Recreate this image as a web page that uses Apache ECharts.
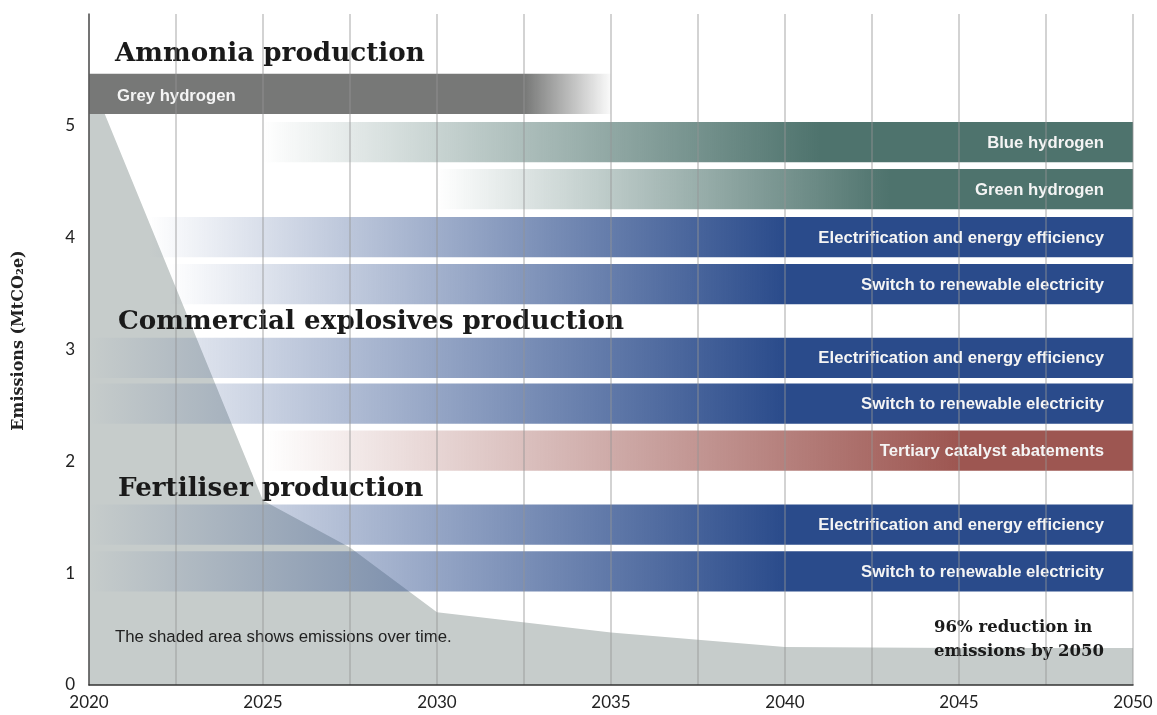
<!DOCTYPE html>
<html><head><meta charset="utf-8">
<script src="https://cdn.jsdelivr.net/npm/echarts@6/dist/echarts.min.js"></script>
<style>html,body{margin:0;padding:0;background:#fff}#c{width:1157px;height:715px}</style>
</head><body><div id="c"></div>
<script>
// ---- data ----
var emissionYears = [2020, 2025, 2027.5, 2030, 2035, 2040, 2045, 2050];
var emissionValues = [5.45, 1.65, 1.23, 0.65, 0.47, 0.34, 0.33, 0.33];

var barLabels = ['Grey hydrogen','Blue hydrogen','Green hydrogen',
  'Electrification and energy efficiency','Switch to renewable electricity',
  'Electrification and energy efficiency','Switch to renewable electricity','Tertiary catalyst abatements',
  'Electrification and energy efficiency','Switch to renewable electricity'];
var barLevels = [5.285, 4.855, 4.435, 4.005, 3.585, 2.925, 2.515, 2.095, 1.435, 1.015];
var barFrom =      [2020, 2025, 2030, 2021.7, 2022.3, 2020, 2020, 2025, 2020, 2020];
var barSolidFrom = [2020, 2041, 2043, 2040, 2040, 2040, 2040, 2045, 2040, 2040];
var barSolidTo =   [2032.5, 2050, 2050, 2050, 2050, 2050, 2050, 2050, 2050, 2050];
var barTo =        [2035, 2050, 2050, 2050, 2050, 2050, 2050, 2050, 2050, 2050];
var barColors = ['119,120,119','78,115,109','78,115,109','42,75,139','42,75,139',
  '42,75,139','42,75,139','157,86,81','42,75,139','42,75,139'];
var barLabelSide = ['left','right','right','right','right','right','right','right','right','right'];

var sectionTitles = ['Ammonia production','Commercial explosives production','Fertiliser production'];
var xTickLabels = ['2020','2025','2030','2035','2040','2045','2050'];
var yTickLabels = ['0','1','2','3','4','5'];

// ---- build ----
var areaData = emissionYears.map(function(y,i){return [y, emissionValues[i]];});
var barData = barLevels.map(function(v,i){return [barFrom[i], v, barTo[i], barSolidFrom[i], barSolidTo[i], i];});

var BAR_THICK = 0.36;
function renderBar(params, api){
  var i = api.value(5);
  var from = api.value(0), lvl = api.value(1), to = api.value(2), sf = api.value(3), st = api.value(4);
  var p0 = api.coord([from, lvl]);
  var p1 = api.coord([to, lvl]);
  var h = api.size([0, BAR_THICK])[1];
  var span = to - from;
  var c = barColors[i];
  var stops = [];
  var oSF = (sf - from)/span, oST = (st - from)/span;
  if (oSF > 0) stops.push({offset:0, color:'rgba('+c+',0)'});
  stops.push({offset:oSF, color:'rgba('+c+',1)'});
  stops.push({offset:oST, color:'rgba('+c+',1)'});
  if (oST < 1) stops.push({offset:1, color:'rgba('+c+',0.03)'});
  var grad = new echarts.graphic.LinearGradient(0,0,1,0,stops);
  var left = barLabelSide[i] === 'left';
  return {
    type:'group',
    children:[
      {type:'rect', shape:{x:p0[0], y:p0[1]-h/2, width:p1[0]-p0[0], height:h}, style:{fill:grad}},
      {type:'text', style:{
        text: barLabels[i],
        x: left ? p0[0]+28 : p1[0]-29,
        y: p0[1]+ (left ? 2 : 1),
        align: left ? 'left' : 'right',
        verticalAlign:'middle',
        fill:'#f4f4f4',
        font:'bold 16.7px "Liberation Sans", Arial, sans-serif'
      }}
    ]
  };
}

var chart = echarts.init(document.getElementById('c'), null, {renderer:'canvas'});
var titleFont = 'bold 26.2px "DejaVu Serif", serif';
chart.setOption({
  animation:false,
  grid:{left:89, right:24, top:14, bottom:30, containLabel:false},
  xAxis:{
    type:'value', min:2020, max:2050, interval:2.5, z:10,
    axisLine:{show:true, onZero:false, lineStyle:{color:'#333', width:1.5}},
    axisTick:{show:false},
    splitLine:{show:true, lineStyle:{color:'rgba(150,150,150,0.55)', width:1.5}},
    axisLabel:{
      margin:9, color:'#222', fontSize:17, fontFamily:'Lato, "Open Sans", sans-serif',
      formatter:function(v){ var s=String(v); return xTickLabels.indexOf(s)>=0 ? s : ''; }
    }
  },
  yAxis:{
    type:'value', min:0, max:6, interval:1, z:10,
    name:'Emissions (MtCO₂e)', nameLocation:'middle', nameGap:62,
    nameTextStyle:{fontFamily:'"DejaVu Serif", serif', fontWeight:'bold', fontSize:16, color:'#222', padding:[0,0,0,18]},
    axisLine:{show:true, lineStyle:{color:'#555', width:1.5}},
    axisTick:{show:false},
    splitLine:{show:false},
    axisLabel:{
      margin:14, color:'#222', fontSize:17, fontFamily:'Lato, "Open Sans", sans-serif',
      formatter:function(v){ var s=String(v); return yTickLabels.indexOf(s)>=0 ? s : ''; }
    }
  },
  series:[
    {type:'line', data:areaData, symbol:'none', z:1,
     lineStyle:{width:0}, areaStyle:{color:'#c6cccb', opacity:1}},
    {type:'custom', renderItem:renderBar, data:barData, z:2, clip:false}
  ],
  graphic:[
    {type:'text', z:5, left:115, top:41, style:{text:sectionTitles[0], font:titleFont, fill:'#1a1a1a'}},
    {type:'text', z:5, left:118, top:309, style:{text:sectionTitles[1], font:titleFont, fill:'#1a1a1a'}},
    {type:'text', z:5, left:118, top:476, style:{text:sectionTitles[2], font:titleFont, fill:'#1a1a1a'}},
    {type:'text', z:5, left:115, top:629, style:{text:'The shaded area shows emissions over time.', font:'16.8px "Liberation Sans", Arial, sans-serif', fill:'#222'}},
    {type:'text', z:5, right:53, top:616, style:{text:'96% reduction in\nemissions by 2050', font:'bold 16.5px "DejaVu Serif", serif', fill:'#1a1a1a', align:'right', lineHeight:24}}
  ]
});
</script>
</body></html>
